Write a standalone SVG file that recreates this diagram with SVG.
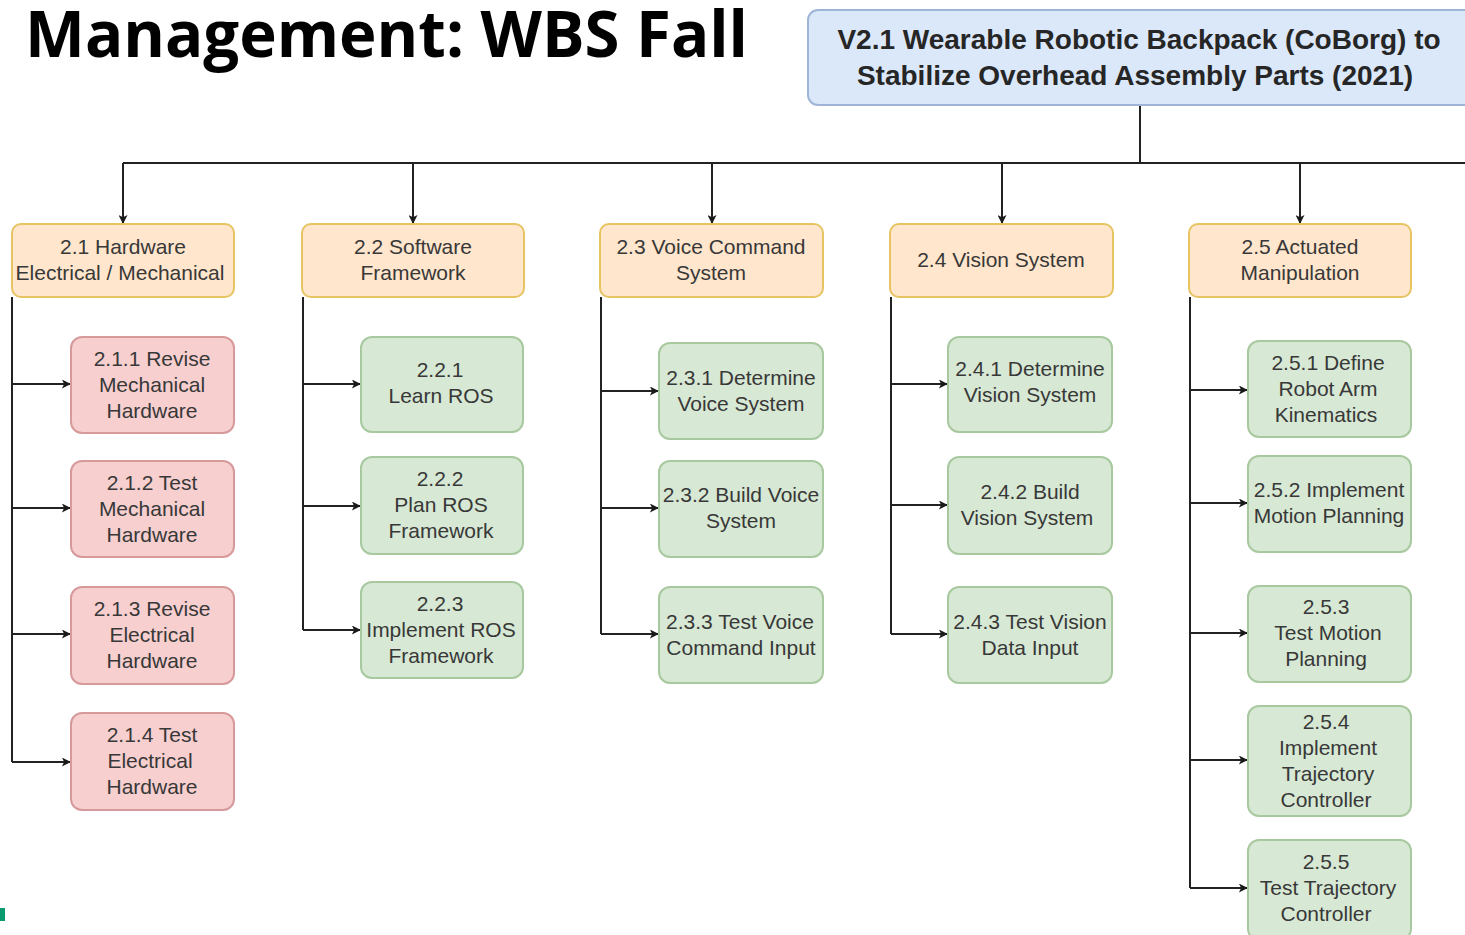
<svg xmlns="http://www.w3.org/2000/svg" width="1465" height="935" viewBox="0 0 1465 935">
<defs>
<marker id="arr" viewBox="0 0 10 10" refX="9" refY="5" markerWidth="10" markerHeight="9" orient="auto" markerUnits="userSpaceOnUse">
<path d="M0,0 L10,5 L0,10 L2.5,5 Z" fill="#1a1a1a"/>
</marker>
<style>
.t{font-family:"Liberation Sans",Arial,sans-serif;font-size:21px;fill:#383838;text-anchor:middle}
.top{font-family:"Liberation Sans",Arial,sans-serif;font-size:28px;font-weight:bold;fill:#262626;text-anchor:middle}
.title{font-family:"Open Sans",sans-serif;font-size:64px;font-weight:bold;fill:#000}
.o{fill:#ffe6cc;stroke:#e6c462;stroke-width:2}
.r{fill:#f7cfcf;stroke:#d79a9a;stroke-width:2}
.g{fill:#d7e8d4;stroke:#a8c99f;stroke-width:2}
.b{fill:#dbe8fa;stroke:#9fb5d8;stroke-width:2}
.c{fill:none;stroke:#222;stroke-width:2}
.a{fill:none;stroke:#222;stroke-width:2;marker-end:url(#arr)}
</style>
</defs>
<rect width="1465" height="935" fill="#ffffff"/>
<text class="title" x="25" y="57" textLength="723" lengthAdjust="spacingAndGlyphs">Management: WBS Fall</text>
<rect x="0" y="908" width="5" height="13" fill="#0a9a70"/>

<g id="connectors">
<path class="c" d="M1140,105 V163 M123,163 H1465"/>
<path class="a" d="M123,163 V223"/>
<path class="a" d="M413,163 V223"/>
<path class="a" d="M712,163 V223"/>
<path class="a" d="M1002,163 V223"/>
<path class="a" d="M1300,163 V223"/>
<path class="c" d="M12,297 V762"/>
<path class="a" d="M12,384 H70"/>
<path class="a" d="M12,508 H70"/>
<path class="a" d="M12,634 H70"/>
<path class="a" d="M12,762 H70"/>
<path class="c" d="M303,297 V630"/>
<path class="a" d="M303,384 H360"/>
<path class="a" d="M303,506 H360"/>
<path class="a" d="M303,630 H360"/>
<path class="c" d="M601,297 V634"/>
<path class="a" d="M601,391 H658"/>
<path class="a" d="M601,508 H658"/>
<path class="a" d="M601,634 H658"/>
<path class="c" d="M891,297 V634"/>
<path class="a" d="M891,384 H947"/>
<path class="a" d="M891,505 H947"/>
<path class="a" d="M891,634 H947"/>
<path class="c" d="M1190,297 V888"/>
<path class="a" d="M1190,390 H1247"/>
<path class="a" d="M1190,503 H1247"/>
<path class="a" d="M1190,633 H1247"/>
<path class="a" d="M1190,760 H1247"/>
<path class="a" d="M1190,888 H1247"/>
</g>

<g id="root">
<rect class="b" x="808" y="10" width="670" height="95" rx="10"/>
<text class="top" x="1139" y="49">V2.1 Wearable Robotic Backpack (CoBorg) to</text>
<text class="top" x="1135" y="85">Stabilize Overhead Assembly Parts (2021)</text>
</g>

<g id="n2_1"><rect class="o" x="12" y="224" width="222" height="73" rx="9"/>
<text class="t" x="123" y="254">2.1 Hardware</text><text class="t" x="120" y="280">Electrical / Mechanical</text></g>
<g id="n2_2"><rect class="o" x="302" y="224" width="222" height="73" rx="9"/>
<text class="t" x="413" y="254">2.2 Software</text><text class="t" x="413" y="280">Framework</text></g>
<g id="n2_3"><rect class="o" x="600" y="224" width="223" height="73" rx="9"/>
<text class="t" x="711" y="254">2.3 Voice Command</text><text class="t" x="711" y="280">System</text></g>
<g id="n2_4"><rect class="o" x="890" y="224" width="223" height="73" rx="9"/>
<text class="t" x="1001" y="267">2.4 Vision System</text></g>
<g id="n2_5"><rect class="o" x="1189" y="224" width="222" height="73" rx="9"/>
<text class="t" x="1300" y="254">2.5 Actuated</text><text class="t" x="1300" y="280">Manipulation</text></g>

<g id="n2_1_1"><rect class="r" x="71" y="337" width="163" height="96" rx="11"/>
<text class="t" x="152" y="366">2.1.1 Revise</text><text class="t" x="152" y="392">Mechanical</text><text class="t" x="152" y="418">Hardware</text></g>
<g id="n2_1_2"><rect class="r" x="71" y="461" width="163" height="96" rx="11"/>
<text class="t" x="152" y="490">2.1.2 Test</text><text class="t" x="152" y="516">Mechanical</text><text class="t" x="152" y="542">Hardware</text></g>
<g id="n2_1_3"><rect class="r" x="71" y="587" width="163" height="97" rx="11"/>
<text class="t" x="152" y="616">2.1.3 Revise</text><text class="t" x="152" y="642">Electrical</text><text class="t" x="152" y="668">Hardware</text></g>
<g id="n2_1_4"><rect class="r" x="71" y="713" width="163" height="97" rx="11"/>
<text class="t" x="152" y="742">2.1.4 Test</text><text class="t" x="150" y="768">Electrical</text><text class="t" x="152" y="794">Hardware</text></g>

<g id="n2_2_1"><rect class="g" x="361" y="337" width="162" height="95" rx="11"/>
<text class="t" x="440" y="377">2.2.1</text><text class="t" x="441" y="403">Learn ROS</text></g>
<g id="n2_2_2"><rect class="g" x="361" y="457" width="162" height="97" rx="11"/>
<text class="t" x="440" y="486">2.2.2</text><text class="t" x="441" y="512">Plan ROS</text><text class="t" x="441" y="538">Framework</text></g>
<g id="n2_2_3"><rect class="g" x="361" y="582" width="162" height="96" rx="11"/>
<text class="t" x="440" y="611">2.2.3</text><text class="t" x="441" y="637">Implement ROS</text><text class="t" x="441" y="663">Framework</text></g>

<g id="n2_3_1"><rect class="g" x="659" y="343" width="164" height="96" rx="11"/>
<text class="t" x="741" y="385">2.3.1 Determine</text><text class="t" x="741" y="411">Voice System</text></g>
<g id="n2_3_2"><rect class="g" x="659" y="461" width="164" height="96" rx="11"/>
<text class="t" x="741" y="502">2.3.2 Build Voice</text><text class="t" x="741" y="528">System</text></g>
<g id="n2_3_3"><rect class="g" x="659" y="587" width="164" height="96" rx="11"/>
<text class="t" x="740" y="629">2.3.3 Test Voice</text><text class="t" x="741" y="655">Command Input</text></g>

<g id="n2_4_1"><rect class="g" x="948" y="337" width="164" height="95" rx="11"/>
<text class="t" x="1030" y="376">2.4.1 Determine</text><text class="t" x="1030" y="402">Vision System</text></g>
<g id="n2_4_2"><rect class="g" x="948" y="457" width="164" height="97" rx="11"/>
<text class="t" x="1030" y="499">2.4.2 Build</text><text class="t" x="1027" y="525">Vision System</text></g>
<g id="n2_4_3"><rect class="g" x="948" y="587" width="164" height="96" rx="11"/>
<text class="t" x="1030" y="629">2.4.3 Test Vision</text><text class="t" x="1030" y="655">Data Input</text></g>

<g id="n2_5_1"><rect class="g" x="1248" y="341" width="163" height="96" rx="11"/>
<text class="t" x="1328" y="370">2.5.1 Define</text><text class="t" x="1328" y="396">Robot Arm</text><text class="t" x="1326" y="422">Kinematics</text></g>
<g id="n2_5_2"><rect class="g" x="1248" y="456" width="163" height="96" rx="11"/>
<text class="t" x="1329" y="497">2.5.2 Implement</text><text class="t" x="1329" y="523">Motion Planning</text></g>
<g id="n2_5_3"><rect class="g" x="1248" y="586" width="163" height="96" rx="11"/>
<text class="t" x="1326" y="614">2.5.3</text><text class="t" x="1328" y="640">Test Motion</text><text class="t" x="1326" y="666">Planning</text></g>
<g id="n2_5_4"><rect class="g" x="1248" y="706" width="163" height="110" rx="11"/>
<text class="t" x="1326" y="729">2.5.4</text><text class="t" x="1328" y="755">Implement</text><text class="t" x="1328" y="781">Trajectory</text><text class="t" x="1326" y="807">Controller</text></g>
<g id="n2_5_5"><rect class="g" x="1248" y="840" width="163" height="100" rx="11"/>
<text class="t" x="1326" y="869">2.5.5</text><text class="t" x="1328" y="895">Test Trajectory</text><text class="t" x="1326" y="921">Controller</text></g>
</svg>
